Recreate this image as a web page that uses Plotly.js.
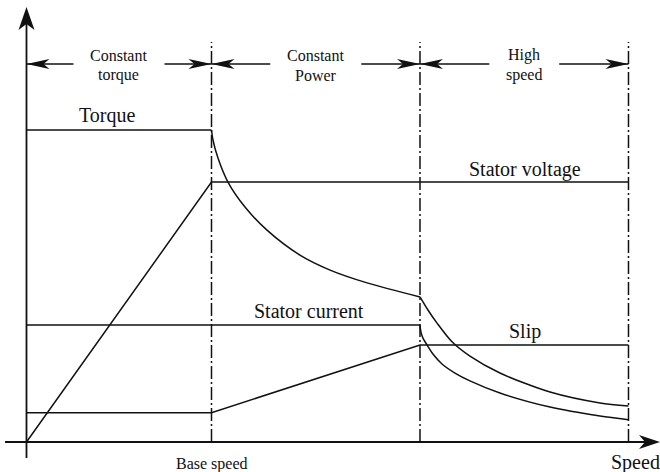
<!DOCTYPE html>
<html><head><meta charset="utf-8">
<script src="https://cdn.plot.ly/plotly-3.0.1.min.js"></script>
<style>html,body{margin:0;padding:0;background:#fff}#chart{width:660px;height:472px}</style>
</head><body><div id="chart"></div>
<script>
// Speed axis in per-unit of base speed; quantities normalised to rated torque
const boundaries = [0, 1, 2.127, 3.254];           // 0, base speed, end of constant power, max speed
const regionTop = ["Constant", "Constant", "High"];
const regionBottom = ["torque", "Power", "speed"];

const torqueFlatX = [0, 1];
const torqueFlatY = [1, 1];
const torquePowerX = [1.000, 1.008, 1.035, 1.089, 1.181, 1.300, 1.478, 1.641, 1.841, 2.127];
const torquePowerY = [1.000, 0.968, 0.910, 0.833, 0.753, 0.679, 0.599, 0.551, 0.510, 0.465];
const torqueHighX = [2.127, 2.170, 2.219, 2.300, 2.397, 2.559, 2.830, 3.100, 3.254];
const torqueHighY = [0.465, 0.423, 0.381, 0.321, 0.275, 0.221, 0.160, 0.125, 0.115];

const voltageX = [0, 1, 3.254];
const voltageY = [0, 0.833, 0.833];

const currentFlatX = [0, 2.127];
const currentFlatY = [0.375, 0.375];
const currentHighX = [2.127, 2.132, 2.143, 2.165, 2.197, 2.246, 2.316, 2.397, 2.559, 2.830, 3.100, 3.254];
const currentHighY = [0.375, 0.353, 0.333, 0.311, 0.282, 0.250, 0.221, 0.196, 0.157, 0.112, 0.083, 0.071];

const slipX = [0, 1, 2.127, 3.254];
const slipY = [0.094, 0.094, 0.311, 0.311];

const seriesLabels = [
  {text: "Torque", x: 0.435, y: 1.046},
  {text: "Stator voltage", x: 2.695, y: 0.872},
  {text: "Stator current", x: 1.527, y: 0.419},
  {text: "Slip", x: 2.695, y: 0.353}
];

const ink = "#111";
const serif = "'Liberation Serif', 'Times New Roman', serif";

function line(x, y, spline) {
  return {x: x, y: y, type: "scatter", mode: "lines", hoverinfo: "skip",
    line: {color: ink, width: 1.5, shape: spline ? "spline" : "linear", smoothing: 0.8}};
}

const traces = [
  line(torqueFlatX, torqueFlatY), line(torquePowerX, torquePowerY, true), line(torqueHighX, torqueHighY, true),
  line(voltageX, voltageY),
  line(currentFlatX, currentFlatY), line(currentHighX, currentHighY, true),
  line(slipX, slipY)
];

const shapes = [];
const annotations = [];

// axes
const xMin = -0.1432, xMax = 3.4243, yMin = -0.0962, yMax = 1.4167;
shapes.push({type: "line", x0: -0.116, x1: xMax - 0.03, y0: 0, y1: 0, line: {color: ink, width: 1.8}});
shapes.push({type: "line", x0: 0, x1: 0, y0: -0.051, y1: 1.36, line: {color: ink, width: 1.8}});
shapes.push({type: "path", xsizemode: "pixel", ysizemode: "pixel", xanchor: xMax, yanchor: 0,
  path: "M0,0L-21,7L-15,0L-21,-7Z", fillcolor: ink, line: {width: 0}});
shapes.push({type: "path", xsizemode: "pixel", ysizemode: "pixel", xanchor: 0, yanchor: 1.394,
  path: "M0,0L-8,-23L0,-17L8,-23Z", fillcolor: ink, line: {width: 0}});

// region boundaries
for (let i = 1; i < boundaries.length; i++) {
  shapes.push({type: "line", x0: boundaries[i], x1: boundaries[i], y0: 0, y1: 1.282,
    line: {color: ink, width: 1.5, dash: "13px,3px,2px,3px"}});
}

// region arrows and labels
const arrowY = 1.2115;
const halfGap = [0.246, 0.246, 0.189];
for (let i = 0; i < 3; i++) {
  const a = boundaries[i], b = boundaries[i + 1], c = (a + b) / 2;
  shapes.push({type: "line", x0: a, x1: c - halfGap[i], y0: arrowY, y1: arrowY, line: {color: ink, width: 1.5}});
  shapes.push({type: "line", x0: c + halfGap[i], x1: b, y0: arrowY, y1: arrowY, line: {color: ink, width: 1.5}});
  shapes.push({type: "path", xsizemode: "pixel", ysizemode: "pixel", xanchor: a, yanchor: arrowY,
    path: "M0,0L23,5L17,0L23,-5Z", fillcolor: ink, line: {width: 0}});
  shapes.push({type: "path", xsizemode: "pixel", ysizemode: "pixel", xanchor: b, yanchor: arrowY,
    path: "M0,0L-23,5L-17,0L-23,-5Z", fillcolor: ink, line: {width: 0}});
  annotations.push({x: c, y: 1.2404, text: regionTop[i], showarrow: false, xanchor: "center", yanchor: "middle",
    font: {family: serif, size: 16, color: ink}});
  annotations.push({x: c, y: 1.1763, text: regionBottom[i], showarrow: false, xanchor: "center", yanchor: "middle",
    font: {family: serif, size: 16, color: ink}});
}

seriesLabels.forEach(function (s) {
  annotations.push({x: s.x, y: s.y, text: s.text, showarrow: false, xanchor: "center", yanchor: "middle",
    font: {family: serif, size: 20, color: ink}});
});

annotations.push({x: boundaries[1], y: -0.0705, text: "Base speed", showarrow: false, xanchor: "center", yanchor: "middle",
  font: {family: serif, size: 16, color: ink}});
annotations.push({x: 3.1486, y: -0.0673, text: "Speed", showarrow: false, xanchor: "left", yanchor: "middle",
  font: {family: serif, size: 20, color: ink}});

const layout = {
  width: 660, height: 472,
  margin: {l: 0, r: 0, t: 0, b: 0, pad: 0},
  paper_bgcolor: "#fff", plot_bgcolor: "#fff",
  showlegend: false,
  xaxis: {range: [xMin, xMax], visible: false, fixedrange: true},
  yaxis: {range: [yMin, yMax], visible: false, fixedrange: true},
  shapes: shapes,
  annotations: annotations
};

Plotly.newPlot("chart", traces, layout, {staticPlot: true, displayModeBar: false});
</script>
</body></html>
